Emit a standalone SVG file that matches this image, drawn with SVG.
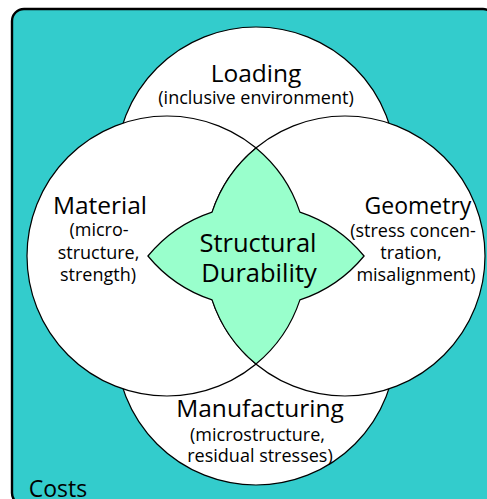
<svg xmlns="http://www.w3.org/2000/svg" width="487" height="499" viewBox="0 0 487 499">
<style>
.c{fill:#fff;stroke:#000;stroke-width:1.2}
text{font-family:"Open Sans","Noto Sans",sans-serif;fill:#000;text-anchor:middle}
.t{font-size:24.5px}
.s{font-size:18px}
.m{font-size:25.5px}
</style>
<rect id="costs-frame" x="12" y="9" width="483" height="496" rx="12" fill="#33CCCC" stroke="#000" stroke-width="2.4"/>
<g id="loading"><circle class="c" cx="256" cy="167" r="140"/></g>
<g id="manufacturing"><circle class="c" cx="256" cy="345" r="140"/></g>
<g id="material"><circle class="c" cx="167" cy="256" r="140"/></g>
<g id="geometry"><circle class="c" cx="345" cy="256" r="140"/></g>
<g id="durability"><path fill="#99FFCC" stroke="#000" stroke-width="1.2" d="M256,147.93 A140,140 0 0 0 212.07,212.07 A140,140 0 0 0 147.93,256 A140,140 0 0 0 212.07,299.93 A140,140 0 0 0 256,364.07 A140,140 0 0 0 299.93,299.93 A140,140 0 0 0 364.07,256 A140,140 0 0 0 299.93,212.07 A140,140 0 0 0 256,147.93 Z"/></g>
<g id="labels">
<text class="t" x="256" y="81.5">Loading</text>
<text class="s" x="256" y="103.5">(inclusive environment)</text>
<text class="t" x="100" y="213.5">Material</text>
<text class="s" x="99" y="236">(micro-</text>
<text class="s" x="98.5" y="258.5">structure,</text>
<text class="s" x="98" y="281">strength)</text>
<text class="t" x="418" y="213.5" style="font-size:23px">Geometry</text>
<text class="s" x="413" y="236.5">(stress concen-</text>
<text class="s" x="411" y="259">tration,</text>
<text class="s" x="416" y="281">misalignment)</text>
<text class="m" x="258" y="252">Structural</text>
<text class="m" x="259" y="282">Durability</text>
<text class="t" x="260" y="417">Manufacturing</text>
<text class="s" x="257.5" y="441">(microstructure,</text>
<text class="s" x="260" y="462">residual stresses)</text>
<text class="t" x="58" y="497" style="font-size:23px">Costs</text>
</g>
</svg>
